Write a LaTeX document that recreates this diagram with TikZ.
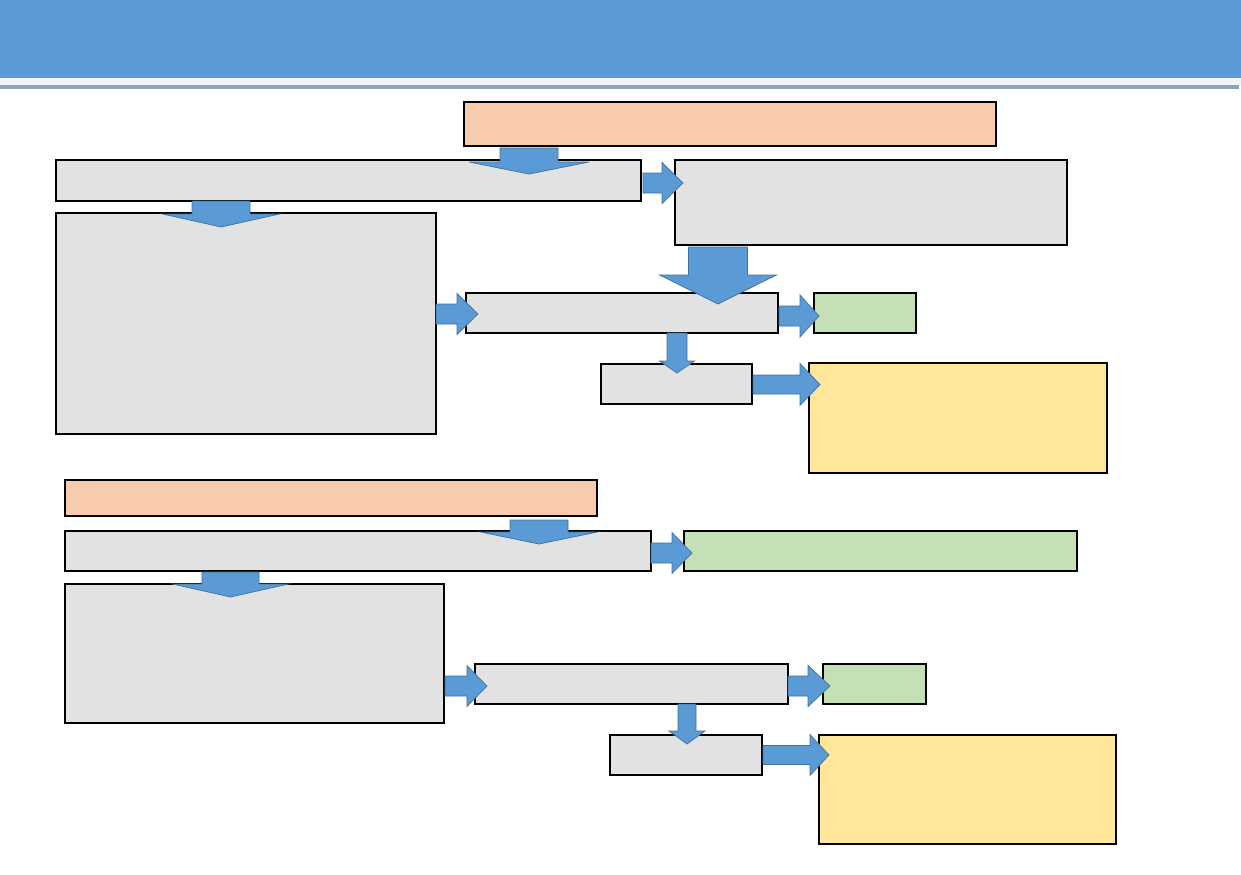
\documentclass[tikz,border=0pt]{standalone}
\usetikzlibrary{fit,calc}
\definecolor{hdrblue}{HTML}{5B9BD5}
\definecolor{hdrline}{HTML}{8EA4B8}
\definecolor{hdrgap}{HTML}{F2F4F6}
\definecolor{boxgray}{HTML}{E2E2E2}
\definecolor{salmon}{HTML}{F8CBAD}
\definecolor{lgreen}{HTML}{C5E0B4}
\definecolor{lyellow}{HTML}{FFE699}
\definecolor{arrfill}{HTML}{5B9BD5}
\definecolor{arrline}{HTML}{41719C}
\tikzset{
  bx/.style={draw=black, line width=0.9pt, inner sep=0pt, outer sep=0pt},
  graybox/.style={bx, fill=boxgray},
  salmonbox/.style={bx, fill=salmon},
  greenbox/.style={bx, fill=lgreen},
  yellowbox/.style={bx, fill=lyellow},
  barrow/.style={fill=arrfill, draw=arrline, line width=0.4pt, line join=miter}
}
% right block arrow: start(shaft left centre), shaft length, head length, shaft half width, head half width
\newcommand\rarr[5]{\draw[barrow] #1 ++(0,-#4) -- ++(#2,0) -- ++(0,{#4-#5}) -- ++(#3,#5) -- ++(-#3,#5) -- ++(0,{#4-#5}) -- ++(-#2,0) -- cycle;}
% down block arrow: start(shaft top centre)
\newcommand\darr[5]{\draw[barrow] #1 ++(-#4,0) -- ++(0,#2) -- ++({#4-#5},0) -- ++(#5,#3) -- ++(#5,-#3) -- ++({#4-#5},0) -- ++(0,-#2) -- cycle;}
\newcommand\mkbox[6]{\coordinate (#1-p) at (#3,#4); \coordinate (#1-q) at (#5,#6); \node[#2, fit=(#1-p)(#1-q)] (#1) {};}
\begin{document}
\begin{tikzpicture}[x=0.02cm, y=-0.02cm]
\useasboundingbox (0,0) rectangle (1241,875);
% header
\fill[hdrblue] (0,0) rectangle (1241,78);
\fill[hdrgap] (0,78) rectangle (1241,85);
\fill[hdrline] (0,85) rectangle (1239,89.5);
% top section boxes
\mkbox{S}{salmonbox}{464}{102}{996}{146}
\mkbox{A}{graybox}{56}{160}{641}{201}
\mkbox{B}{graybox}{675}{160}{1067}{245}
\mkbox{C}{graybox}{56}{213}{436}{434}
\mkbox{D}{graybox}{466}{293}{778}{333}
\mkbox{E}{greenbox}{814}{293}{916}{333}
\mkbox{F}{graybox}{601}{364}{752}{404}
\mkbox{G}{yellowbox}{809}{363}{1107}{473}
% bottom section boxes
\mkbox{H}{salmonbox}{65}{480}{597}{516}
\mkbox{I}{graybox}{65}{531}{651}{571}
\mkbox{J}{greenbox}{684}{531}{1077}{571}
\mkbox{K}{graybox}{65}{584}{444}{723}
\mkbox{L}{graybox}{475}{664}{788}{704}
\mkbox{M}{greenbox}{823}{664}{926}{704}
\mkbox{N}{graybox}{610}{735}{762}{775}
\mkbox{O}{yellowbox}{819}{735}{1116}{844}
% top section arrows
\darr{($(S.south west)+(65,2)$)}{14}{12}{29}{60}
\rarr{($(A.east)+(2,2.5)$)}{19}{21}{10}{20.5}
\darr{($(A.south west)+(165,0)$)}{13}{13}{29}{58.5}
\darr{($(B.south west)+(43,2)$)}{28}{29}{29.5}{58.5}
\rarr{($(C.east)+(0,-9.5)$)}{21}{21}{10}{20.5}
\rarr{($(D.east)+(1,3)$)}{21}{19}{10}{21}
\darr{($(D.south west)+(211,0)$)}{28}{12}{10}{17.5}
\rarr{($(F.east)+(1,0.5)$)}{47}{20}{9.5}{21}
% bottom section arrows
\darr{($(H.south east)+(-58,4)$)}{12}{12}{29}{58.5}
\rarr{($(I.east)+(0,2)$)}{21}{20}{10}{20.5}
\darr{($(I.south west)+(165.5,1)$)}{12}{13}{28.5}{58}
\rarr{($(L.west)+(-30,2)$)}{22}{20}{10}{20.5}
\rarr{($(L.east)+(0,2)$)}{20}{22}{10}{20.5}
\darr{($(L.south west)+(212,0)$)}{27}{13}{9}{18}
\rarr{($(N.east)+(1,0)$)}{47}{19}{9.5}{20.5}
\end{tikzpicture}
\end{document}
